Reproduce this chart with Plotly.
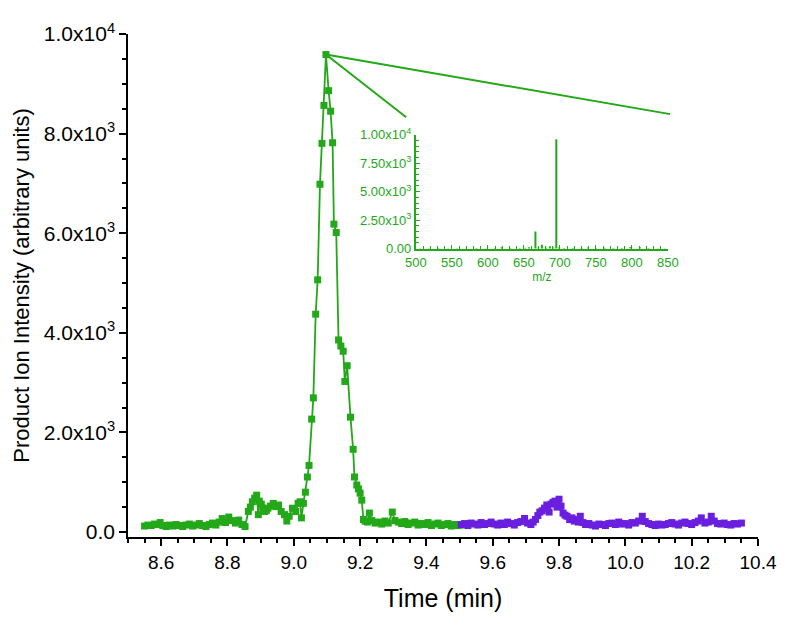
import plotly.graph_objects as go

# ---------------- data ----------------
green_time = [8.550, 8.560, 8.570, 8.580, 8.590, 8.597, 8.605, 8.615, 8.625, 8.635, 8.645,
              8.655, 8.665, 8.675, 8.685, 8.695, 8.705, 8.715, 8.725, 8.735, 8.745, 8.755,
              8.765, 8.775, 8.784, 8.794, 8.804, 8.814, 8.824, 8.834, 8.844, 8.853, 8.863,
              8.869, 8.875, 8.882, 8.888, 8.893, 8.896, 8.902, 8.907, 8.912, 8.917, 8.922,
              8.930, 8.938, 8.947, 8.954, 8.962, 8.972, 8.979, 8.986, 8.996, 9.006, 9.013,
              9.019, 9.023, 9.029, 9.035, 9.041, 9.046, 9.054, 9.059, 9.066, 9.072, 9.079,
              9.085, 9.091, 9.097, 9.105, 9.111, 9.117, 9.121, 9.128, 9.135, 9.142, 9.149,
              9.154, 9.161, 9.171, 9.179, 9.183, 9.190, 9.195, 9.200, 9.205, 9.210, 9.215,
              9.222, 9.228, 9.235, 9.245, 9.255, 9.265, 9.275, 9.285, 9.297, 9.305, 9.315,
              9.325, 9.335, 9.345, 9.355, 9.365, 9.375, 9.385, 9.395, 9.405, 9.415, 9.425,
              9.435, 9.445, 9.455, 9.465, 9.475, 9.485, 9.495, 9.504]
green_intensity = [120, 140, 130, 160, 150, 190, 130, 110, 140, 120, 150,
                   130, 110, 140, 160, 120, 140, 170, 130, 110, 150, 180,
                   140, 200, 270, 190, 300, 230, 180, 240, 150, 110, 413,
                   500, 607, 680, 740, 349, 620, 560, 480, 413, 430, 478,
                   520, 575, 510, 542, 413, 349, 220, 317, 478, 413, 575,
                   607, 284, 576, 800, 1105, 1337, 2267, 2694, 4374, 5064, 6983,
                   7804, 8566, 9587, 8862, 8450, 7816, 6182, 6014, 3857, 3734, 3630,
                   3023, 3339, 2306, 1661, 1105, 944, 866, 780, 640, 252, 219,
                   200, 381, 230, 180, 200, 160, 220, 180, 401, 230, 200,
                   170, 210, 150, 180, 200, 140, 170, 150, 190, 130, 160,
                   180, 130, 150, 170, 120, 150, 130, 140]

purple_time = [9.505, 9.515, 9.525, 9.535, 9.545, 9.555, 9.565, 9.575, 9.585, 9.595,
               9.605, 9.615, 9.625, 9.635, 9.645, 9.655, 9.665, 9.675, 9.685, 9.696,
               9.705, 9.715, 9.722, 9.729, 9.736, 9.742, 9.749, 9.756, 9.763, 9.770,
               9.776, 9.782, 9.788, 9.794, 9.800, 9.806, 9.812, 9.818, 9.824, 9.832,
               9.839, 9.846, 9.852, 9.858, 9.864, 9.872, 9.880, 9.890, 9.900, 9.910,
               9.920, 9.930, 9.940, 9.950, 9.960, 9.970, 9.980, 9.990, 10.000, 10.010,
               10.020, 10.030, 10.040, 10.051, 10.060, 10.070, 10.080, 10.090, 10.100, 10.110,
               10.120, 10.130, 10.140, 10.150, 10.160, 10.170, 10.180, 10.190, 10.200, 10.210,
               10.220, 10.229, 10.240, 10.250, 10.259, 10.268, 10.278, 10.288, 10.298, 10.308,
               10.318, 10.328, 10.338, 10.350]
purple_intensity = [150, 170, 130, 180, 160, 140, 190, 150, 170, 200,
                    160, 140, 180, 150, 200, 170, 140, 190, 210, 271,
                    180, 150, 200, 252, 330, 400, 426, 480, 543, 401,
                    560, 595, 620, 500, 659, 520, 381, 340, 316, 250,
                    284, 220, 250, 200, 316, 190, 150, 170, 140, 120,
                    160, 150, 130, 170, 180, 150, 200, 160, 170, 140,
                    190, 180, 220, 316, 210, 170, 150, 130, 160, 140,
                    150, 170, 190, 160, 140, 180, 200, 170, 150, 190,
                    220, 284, 180, 200, 316, 220, 170, 160, 180, 150,
                    140, 170, 160, 180]

# inset mass spectrum
spectrum_mz = [506, 518, 531, 545, 557, 570, 584, 597, 610, 619, 631, 644, 652, 657,
               666, 670, 675, 681, 686, 691, 695, 699, 706, 718, 730, 739, 750, 762,
               774, 786, 798, 811, 823, 836, 846]
spectrum_intensity = [40, 30, 50, 30, 40, 30, 50, 40, 60, 120, 50, 60, 80, 110,
                      1500, 90, 330, 80, 200, 100, 9600, 90, 60, 50, 60, 90, 50, 80,
                      50, 60, 140, 110, 50, 40, 30]

y_tickvals = [0, 2000, 4000, 6000, 8000, 10000]
y_ticktext = ["0.0", "2.0x10<sup>3</sup>", "4.0x10<sup>3</sup>", "6.0x10<sup>3</sup>",
              "8.0x10<sup>3</sup>", "1.0x10<sup>4</sup>"]
inset_y_tickvals = [0, 2500, 5000, 7500, 10000]
inset_y_ticktext = ["0.00", "2.50x10<sup>3</sup>", "5.00x10<sup>3</sup>",
                    "7.50x10<sup>3</sup>", "1.00x10<sup>4</sup>"]

# end points of the two callout lines (main-axis coordinates)
callout_ends = [(10.135, 8391), (9.339, 8330)]

GREEN = "#22A818"
PURPLE = "#6A1FDF"
FONT = "Liberation Sans, Arial, sans-serif"

fig = go.Figure()
fig.add_trace(go.Scatter(x=green_time, y=green_intensity, mode="lines+markers",
                         line=dict(color=GREEN, width=1.8),
                         marker=dict(symbol="square", size=7, color=GREEN),
                         showlegend=False))
fig.add_trace(go.Scatter(x=purple_time, y=purple_intensity, mode="lines+markers",
                         line=dict(color=PURPLE, width=1.8),
                         marker=dict(symbol="square", size=7, color=PURPLE),
                         showlegend=False))

# stick spectrum built from the arrays
stick_x, stick_y = [], []
for m, v in zip(spectrum_mz, spectrum_intensity):
    stick_x += [m, m, None]
    stick_y += [0, v, None]
fig.add_trace(go.Scatter(x=stick_x, y=stick_y, mode="lines",
                         line=dict(color=GREEN, width=2),
                         xaxis="x2", yaxis="y2", showlegend=False))

peak_idx = max(range(len(green_intensity)), key=lambda i: green_intensity[i])
px, py = green_time[peak_idx], green_intensity[peak_idx]
for ex, ey in callout_ends:
    fig.add_shape(type="line", xref="x", yref="y", x0=px, y0=py, x1=ex, y1=ey,
                  line=dict(color=GREEN, width=2))

fig.update_layout(
    width=781, height=612,
    margin=dict(l=119, r=19, t=13, b=77),
    paper_bgcolor="white", plot_bgcolor="white",
    font=dict(family=FONT, color="black"),
    xaxis=dict(range=[8.5, 10.4], tick0=8.6, dtick=0.2, tickformat=".1f",
               showgrid=False, zeroline=False, showline=True, linecolor="black",
               linewidth=1.5, ticks="outside", ticklen=7, tickwidth=1.5,
               tickcolor="black", tickfont=dict(size=19),
               minor=dict(dtick=0.05, tick0=8.5, ticks="outside", ticklen=4,
                          tickwidth=1.5, tickcolor="black"),
               title=dict(text="Time (min)", font=dict(size=25), standoff=18)),
    yaxis=dict(range=[-100, 10000], tickmode="array", tickvals=y_tickvals,
               ticktext=y_ticktext, showgrid=False, zeroline=False, showline=True,
               linecolor="black", linewidth=1.5, ticks="outside", ticklen=7,
               tickwidth=1.5, tickcolor="black", tickfont=dict(size=21),
               minor=dict(tickmode="linear", dtick=500, tick0=0, ticks="outside",
                          ticklen=4, tickwidth=1.5, tickcolor="black"),
               title=dict(text="Product Ion Intensity (arbitrary units)",
                          font=dict(size=22), standoff=8)),
    xaxis2=dict(domain=[0.457, 0.857], anchor="y2", range=[500, 850], dtick=50,
                showgrid=False, zeroline=False, showline=True, linecolor=GREEN,
                linewidth=2, ticks="inside", ticklen=4, tickcolor=GREEN,
                tickfont=dict(size=13, color=GREEN),
                minor=dict(dtick=10, ticks="inside", ticklen=3, tickcolor=GREEN),
                title=dict(text="m/z", font=dict(size=12, color=GREEN), standoff=2)),
    yaxis2=dict(domain=[0.572, 0.800], anchor="x2", range=[-60, 10000],
                tickmode="array", tickvals=inset_y_tickvals, ticktext=inset_y_ticktext,
                showgrid=False, zeroline=False, showline=True, linecolor=GREEN,
                linewidth=2, ticks="inside", ticklen=4, tickcolor=GREEN,
                tickfont=dict(size=13, color=GREEN),
                minor=dict(tickmode="linear", dtick=500, tick0=0, ticks="inside",
                           ticklen=3, tickcolor=GREEN)),
)

fig.write_html("out.html")
